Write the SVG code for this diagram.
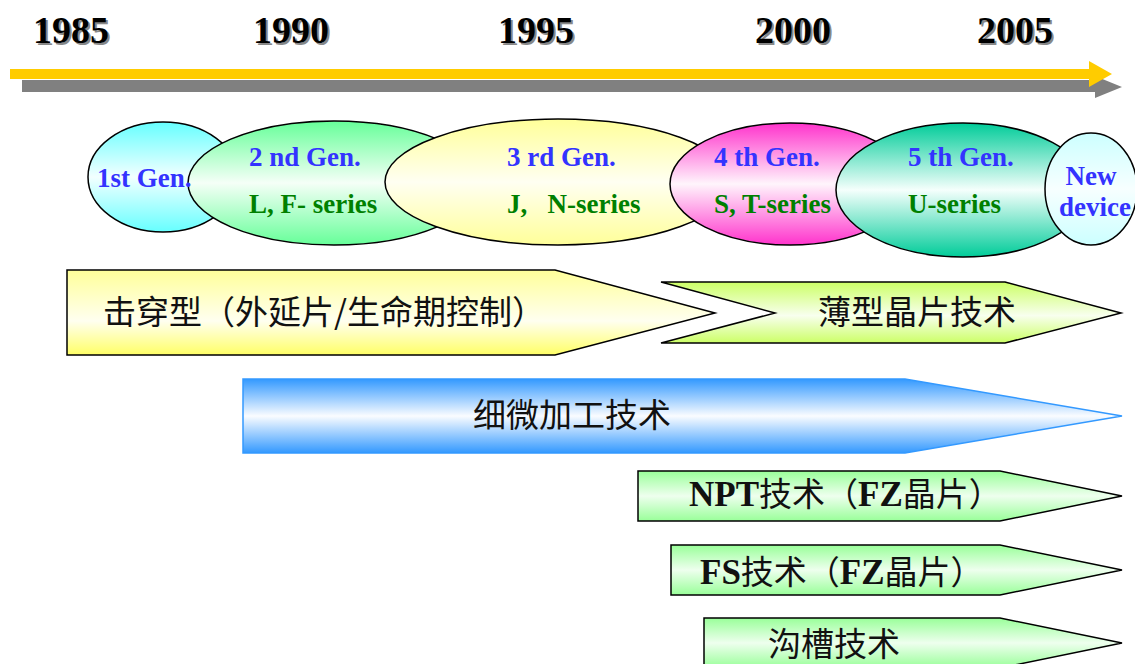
<svg xmlns="http://www.w3.org/2000/svg" width="1135" height="664" viewBox="0 0 1135 664">
<defs>
<linearGradient id="gCyan" x1="0" y1="0" x2="0" y2="1"><stop offset="0" stop-color="#66FFFF"/><stop offset="0.5" stop-color="#F2FFFF"/><stop offset="1" stop-color="#66FFFF"/></linearGradient>
<linearGradient id="gGreen" x1="0" y1="0" x2="0" y2="1"><stop offset="0" stop-color="#66FF99"/><stop offset="0.5" stop-color="#F5FFF7"/><stop offset="1" stop-color="#66FF99"/></linearGradient>
<linearGradient id="gYellow" x1="0" y1="0" x2="0" y2="1"><stop offset="0" stop-color="#FFFF99"/><stop offset="0.5" stop-color="#FFFFF2"/><stop offset="1" stop-color="#FFFF99"/></linearGradient>
<linearGradient id="gMagenta" x1="0" y1="0" x2="0" y2="1"><stop offset="0" stop-color="#FF33CC"/><stop offset="0.5" stop-color="#FFF5FC"/><stop offset="1" stop-color="#FF33CC"/></linearGradient>
<linearGradient id="gTeal" x1="0" y1="0" x2="0" y2="1"><stop offset="0" stop-color="#00CC99"/><stop offset="0.5" stop-color="#F5FFFC"/><stop offset="1" stop-color="#00CC99"/></linearGradient>
<linearGradient id="gLightCyan" x1="0" y1="0" x2="0" y2="1"><stop offset="0" stop-color="#CCFFFF"/><stop offset="0.5" stop-color="#F7FFFF"/><stop offset="1" stop-color="#CCFFFF"/></linearGradient>
<linearGradient id="gBandYellow" x1="0" y1="0" x2="0" y2="1"><stop offset="0" stop-color="#FFFF99"/><stop offset="0.6" stop-color="#FFFFF0"/><stop offset="1" stop-color="#FFFF66"/></linearGradient>
<linearGradient id="gLime" x1="0" y1="0" x2="0" y2="1"><stop offset="0" stop-color="#CCFF66"/><stop offset="0.55" stop-color="#F8FFEE"/><stop offset="1" stop-color="#CCFF66"/></linearGradient>
<linearGradient id="gBlue" x1="0" y1="0" x2="0" y2="1"><stop offset="0" stop-color="#3399FF"/><stop offset="0.5" stop-color="#FAFCFF"/><stop offset="1" stop-color="#3399FF"/></linearGradient>
<linearGradient id="gMint" x1="0" y1="0" x2="0" y2="1"><stop offset="0" stop-color="#99FF99"/><stop offset="0.5" stop-color="#EEFFEE"/><stop offset="1" stop-color="#99FF99"/></linearGradient>
</defs>
<style>
.yr{font-family:"Liberation Serif",serif;font-weight:bold;font-size:38px}
.gen{font-family:"Liberation Serif",serif;font-weight:bold;font-size:27px;fill:#3333FF}
.ser{font-family:"Liberation Serif",serif;font-weight:bold;font-size:27px;fill:#008000}
.el{stroke:#000;stroke-width:1.5}
.band{stroke:#000;stroke-width:1.5}
.cn{font-family:"Noto Sans CJK SC",sans-serif;font-size:33px;fill:#111}
.lat{font-family:"Liberation Serif","Noto Sans CJK SC",serif;font-weight:bold;font-size:35px}
</style>
<rect width="1135" height="664" fill="#fff"/>
<g id="years">
<g fill="#888"><text class="yr" x="35" y="45">1985</text><text class="yr" x="255" y="45">1990</text><text class="yr" x="500" y="45">1995</text><text class="yr" x="757" y="45">2000</text><text class="yr" x="979" y="45">2005</text></g>
<g fill="#000"><text class="yr" x="33" y="43">1985</text><text class="yr" x="253" y="43">1990</text><text class="yr" x="498" y="43">1995</text><text class="yr" x="755" y="43">2000</text><text class="yr" x="977" y="43">2005</text></g>
</g>
<g id="connectors">
<polygon points="22,80 1095,80 1095,76 1122,87 1095,98 1095,92 22,92" fill="#808080"/>
<polygon points="10,69 1089,69 1089,61 1112,74 1089,87 1089,79 10,79" fill="#FFCC00"/>
</g>
<g id="gen1"><ellipse class="el" cx="163" cy="177" rx="75" ry="55" fill="url(#gCyan)"/></g>
<g id="gen2"><ellipse class="el" cx="334" cy="183" rx="146" ry="62" fill="url(#gGreen)"/><text class="gen" x="249" y="166">2 nd Gen.</text><text class="ser" x="249" y="213">L, F- series</text></g>
<g id="gen1-label"><text class="gen" x="97" y="187" font-size="22.5">1st Gen.</text></g>
<g id="gen3"><ellipse class="el" cx="558" cy="182" rx="173" ry="63" fill="url(#gYellow)"/><text class="gen" x="507" y="166">3 rd Gen.</text><text class="ser" x="507" y="213" xml:space="preserve">J,   N-series</text></g>
<g id="gen4"><ellipse class="el" cx="790" cy="184" rx="120" ry="61" fill="url(#gMagenta)"/><text class="gen" x="714" y="166">4 th Gen.</text><text class="ser" x="714" y="213">S, T-series</text></g>
<g id="gen5"><ellipse class="el" cx="963" cy="190" rx="127" ry="67" fill="url(#gTeal)"/><text class="gen" x="908" y="166">5 th Gen.</text><text class="ser" x="908" y="213">U-series</text></g>
<g id="newdev"><ellipse class="el" cx="1091" cy="189" rx="46" ry="56" fill="url(#gLightCyan)"/><text class="gen" x="1091" y="185" text-anchor="middle">New</text><text class="gen" x="1095" y="216" text-anchor="middle">device</text></g>
<g id="punch-through"><polygon class="band" points="67,270 555,270 715,313 555,355 67,355" fill="url(#gBandYellow)"/><text class="cn" x="103" y="324">击穿型（外延片/生命期控制）</text></g>
<g id="thin-wafer"><polygon class="band" points="661,282 1005,282 1121,313 1005,343 661,343 775,313" fill="url(#gLime)"/><text class="cn" x="818" y="324">薄型晶片技术</text></g>
<g id="fine-process"><polygon points="243,379 905,379 1122,416 905,453 243,453" fill="url(#gBlue)" stroke="#3399FF" stroke-width="1.5"/><text class="cn" x="473" y="427">细微加工技术</text></g>
<g id="npt"><polygon class="band" points="638,471 1000,471 1122,496 1000,521 638,521" fill="url(#gMint)"/><text class="cn" x="689" y="506"><tspan class="lat">NPT</tspan>技术（<tspan class="lat">FZ</tspan>晶片）</text></g>
<g id="fs"><polygon class="band" points="671,545 1000,545 1122,570 1000,595 671,595" fill="url(#gMint)"/><text class="cn" x="700" y="584"><tspan class="lat">FS</tspan>技术（<tspan class="lat">FZ</tspan>晶片）</text></g>
<g id="trench"><polygon class="band" points="704,618 1000,618 1122,643 1000,668 704,668" fill="url(#gMint)"/><text class="cn" x="768" y="656">沟槽技术</text></g>
</svg>
